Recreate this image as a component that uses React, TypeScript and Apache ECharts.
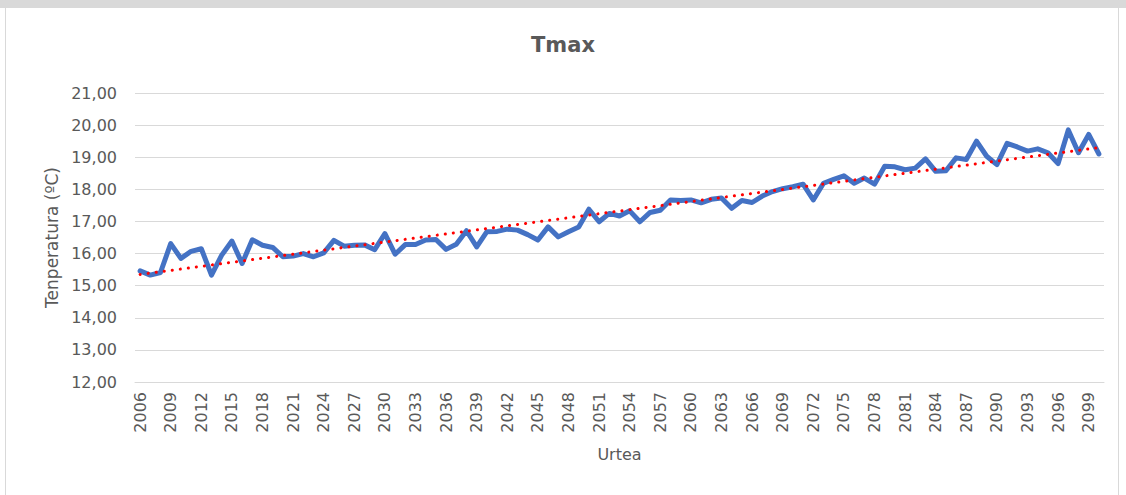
import React, { useEffect, useRef } from "react";
import * as echarts from "echarts";

const years: string[] = [];
for (let y = 2006; y <= 2100; y++) years.push(String(y));

const tmax: number[] = [
  15.46, 15.33, 15.41, 16.31, 15.85, 16.07, 16.15, 15.33, 15.95, 16.39,
  15.69, 16.43, 16.26, 16.19, 15.9, 15.92, 16.0, 15.9, 16.02, 16.41,
  16.23, 16.26, 16.27, 16.12, 16.62, 15.98, 16.28, 16.28, 16.42, 16.44,
  16.13, 16.29, 16.71, 16.21, 16.68, 16.69, 16.76, 16.73, 16.59, 16.42,
  16.83, 16.52, 16.68, 16.83, 17.38, 16.99, 17.25, 17.17, 17.33, 16.99,
  17.28, 17.35, 17.67, 17.65, 17.67, 17.58, 17.69, 17.73, 17.41, 17.65,
  17.59, 17.79, 17.93, 18.02, 18.08, 18.16, 17.67, 18.19, 18.31, 18.42,
  18.19, 18.35, 18.16, 18.72, 18.7, 18.61, 18.66, 18.95, 18.56, 18.58,
  18.98, 18.93, 19.5, 19.03, 18.77, 19.43, 19.32, 19.19, 19.26, 19.14,
  18.8, 19.85, 19.14, 19.71, 19.1,
];

const trendStart = 15.35;
const trendEnd = 19.3;

const yTicks = [12, 13, 14, 15, 16, 17, 18, 19, 20, 21];

const FONT = "DejaVu Sans";
const GREY = "#595959";

export default function App() {
  const ref = useRef<HTMLDivElement>(null);
  useEffect(() => {
    if (!ref.current) return;
    const chart = echarts.init(ref.current, undefined, { renderer: "svg" });
    const trend = years.map((_, i) =>
      i === 0 ? trendStart : i === years.length - 1 ? trendEnd : null
    );
    chart.setOption({
      animation: false,
      backgroundColor: "#ffffff",
      title: {
        text: "Tmax",
        left: "center",
        top: 29,
        textStyle: { fontFamily: FONT, fontSize: 21, fontWeight: "bold", color: GREY },
      },
      graphic: [
        { type: "rect", shape: { x: 0, y: 0, width: 1126, height: 8 }, style: { fill: "#d9d9d9" } },
        { type: "line", shape: { x1: 5.5, y1: 8, x2: 5.5, y2: 495 }, style: { stroke: "#d9d9d9", lineWidth: 1 } },
        { type: "line", shape: { x1: 1118.5, y1: 8, x2: 1118.5, y2: 495 }, style: { stroke: "#d9d9d9", lineWidth: 1 } },
      ],
      grid: { left: 135, right: 22, top: 93, bottom: 113 },
      xAxis: {
        type: "category",
        data: years,
        boundaryGap: true,
        name: "Urtea",
        nameLocation: "middle",
        nameGap: 64,
        nameTextStyle: { fontFamily: FONT, fontSize: 16, color: GREY },
        axisLine: { show: true, lineStyle: { color: "#d9d9d9", width: 1 } },
        axisTick: { show: false },
        axisLabel: {
          interval: 2,
          rotate: 90,
          margin: 10,
          fontFamily: FONT,
          fontSize: 16,
          color: GREY,
        },
        splitLine: { show: false },
      },
      yAxis: {
        type: "value",
        min: yTicks[0],
        max: yTicks[yTicks.length - 1],
        interval: 1,
        name: "Tenperatura (ºC)",
        nameLocation: "middle",
        nameGap: 73,
        nameTextStyle: { fontFamily: FONT, fontSize: 17, color: GREY },
        axisLine: { show: false },
        axisTick: { show: false },
        axisLabel: {
          margin: 18,
          fontFamily: FONT,
          fontSize: 16,
          color: GREY,
          formatter: (v: number) => v.toFixed(2).replace(".", ","),
        },
        splitLine: { show: true, lineStyle: { color: "#d9d9d9", width: 1 } },
      },
      series: [
        {
          name: "Tmax",
          type: "line",
          data: tmax,
          symbol: "none",
          lineStyle: { color: "#4472C4", width: 5, join: "round", cap: "round" },
          z: 2,
        },
        {
          name: "Joera",
          type: "line",
          data: trend,
          connectNulls: true,
          symbol: "none",
          lineStyle: { color: "#FF0000", width: 3, type: [0.1, 8], cap: "round" },
          z: 3,
        },
      ],
    });
    return () => chart.dispose();
  }, []);
  return (
    <div
      ref={ref}
      style={{ position: "fixed", left: 0, top: 0, width: 1126, height: 495 }}
    />
  );
}
